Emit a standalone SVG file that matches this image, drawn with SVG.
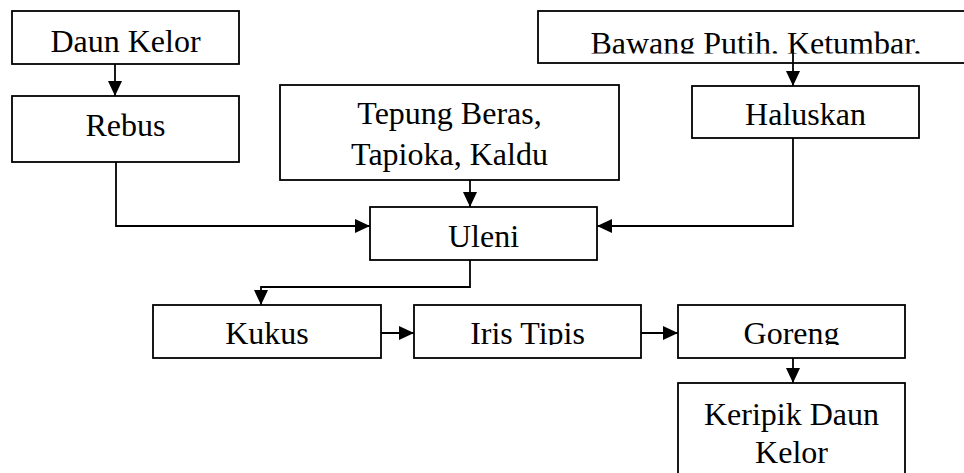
<svg xmlns="http://www.w3.org/2000/svg" width="964" height="473" viewBox="0 0 964 473">
<style>
.box{fill:#fff;stroke:#000;stroke-width:1.8}
.t{font-family:"Liberation Serif","Times New Roman",serif;font-size:32px;fill:#000;text-anchor:middle}
.c{fill:none;stroke:#000;stroke-width:1.8;marker-end:url(#ah)}
</style>
<defs>
<marker id="ah" markerUnits="userSpaceOnUse" markerWidth="16" markerHeight="16" refX="15" refY="7" orient="auto">
<path d="M0,0 L15,7 L0,14 z" fill="#000"/>
</marker>
<clipPath id="clipB"><rect x="538" y="11" width="430" height="42.5"/></clipPath>
<clipPath id="clipI"><rect x="414" y="305" width="227" height="40"/></clipPath>
<clipPath id="clipG"><rect x="678" y="305" width="227" height="40"/></clipPath>
</defs>
<g id="daun-kelor"><rect class="box" x="12" y="11" width="227" height="53"/><text class="t" x="125.5" y="52">Daun Kelor</text></g>
<g id="rebus"><rect class="box" x="12" y="96" width="227" height="66"/><text class="t" x="125.5" y="136">Rebus</text></g>
<g id="bawang"><rect class="box" x="538" y="11" width="440" height="52"/><text class="t" x="756" y="54" clip-path="url(#clipB)">Bawang Putih, Ketumbar,</text></g>
<g id="haluskan"><rect class="box" x="692" y="86" width="227" height="52"/><text class="t" x="805.5" y="125">Haluskan</text></g>
<g id="tepung"><rect class="box" x="280" y="85" width="339" height="95"/><text class="t" x="449.5" y="124">Tepung Beras,</text><text class="t" x="449.5" y="165">Tapioka, Kaldu</text></g>
<g id="uleni"><rect class="box" x="370" y="207" width="227" height="53"/><text class="t" x="483.5" y="247">Uleni</text></g>
<g id="kukus"><rect class="box" x="153" y="305" width="228" height="53"/><text class="t" x="267" y="344">Kukus</text></g>
<g id="iris"><rect class="box" x="414" y="305" width="227" height="53"/><text class="t" x="527.5" y="344" clip-path="url(#clipI)">Iris Tipis</text></g>
<g id="goreng"><rect class="box" x="678" y="305" width="227" height="53"/><text class="t" x="791.5" y="344" clip-path="url(#clipG)">Goreng</text></g>
<g id="keripik"><rect class="box" x="678" y="383" width="227" height="100"/><text class="t" x="791.5" y="425">Keripik Daun</text><text class="t" x="791.5" y="463">Kelor</text></g>
<g id="connectors">
<path class="c" d="M115,64 V96"/>
<path class="c" d="M116,162 V226 H370"/>
<path class="c" d="M793,49 V86"/>
<path class="c" d="M793,138 V226 H597"/>
<path class="c" d="M470,180 V207"/>
<path class="c" d="M470,260 V287 H261 V305"/>
<path class="c" d="M381,333 H414"/>
<path class="c" d="M641,333 H678"/>
<path class="c" d="M793,358 V383"/>
</g>
</svg>
